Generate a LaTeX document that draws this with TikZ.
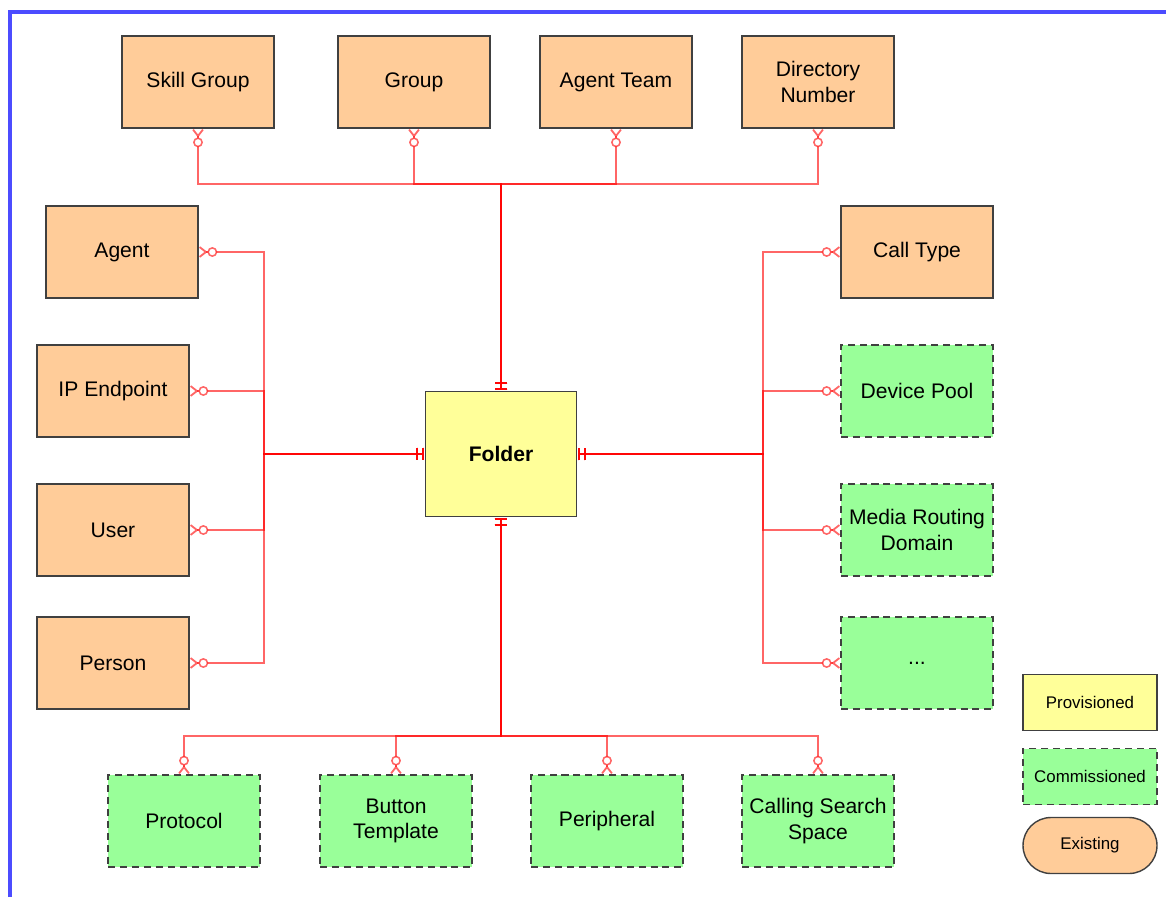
\documentclass[tikz,border=0pt]{standalone}
\usepackage{fontspec}
\setmainfont{Liberation Sans}
\usetikzlibrary{arrows.meta,positioning}

\definecolor{existfill}{HTML}{FFCC99}
\definecolor{provfill}{HTML}{FFFF99}
\definecolor{commfill}{HTML}{99FF99}
\definecolor{boxline}{HTML}{404040}

\begin{document}
\begin{tikzpicture}[on grid,
  entity/.style={draw=boxline,line width=1pt,minimum width=3.8cm,minimum height=2.3cm,
    align=center,font=\fontsize{15}{18}\selectfont},
  existing/.style={entity,fill=existfill},
  commissioned/.style={entity,fill=commfill,dash pattern=on 5pt off 3.5pt},
  provisioned/.style={entity,fill=provfill},
  legendbox/.style={minimum width=3.35cm,minimum height=1.4cm,font=\fontsize{12}{14}\selectfont},
  link/.style={draw=red,draw opacity=.6,line width=1.4pt,
    {Straight Barb[reversed,length=4.5pt,width=7pt,line width=1.3pt] Circle[length=7pt,fill=white,line width=1.1pt]}-{Bar[width=9pt,sep=2.5pt,line width=1.6pt]Bar[width=9pt,sep=0.5pt,line width=1.6pt]}}]
  \useasboundingbox (0,0) rectangle (29.15,-22.425);
  \draw[blue!70,line width=2.5pt] (0.25,-22.425) -- (0.25,-0.3) -- (29.15,-0.3);

  \path
  node[provisioned,minimum width=3.775cm,minimum height=3.125cm,font=\fontsize{15}{18}\selectfont\bfseries] (folder) at (12.525,-11.35) {Folder}
  % top row
  node[existing] (skill) at (4.95,-2.05) {Skill Group}
  node[existing] (group) [right=5.4cm of skill] {Group}
  node[existing] (team) [right=5.05cm of group] {Agent Team}
  node[existing] (dirnum) [right=5.05cm of team] {Directory\\Number}
  % left column
  node[existing] (ipend) at (2.825,-9.775) {IP Endpoint}
  node[existing] (agent) [above right=3.475cm and 0.225cm of ipend] {Agent}
  node[existing] (user) [below=3.475cm of ipend] {User}
  node[existing] (person) [below=3.325cm of user] {Person}
  % right column
  node[existing] (calltype) at (22.925,-6.3) {Call Type}
  node[commissioned] (pool) [below=3.475cm of calltype] {Device Pool}
  node[commissioned] (mrd) [below=3.475cm of pool] {Media Routing\\Domain}
  node[commissioned] (more) [below=3.325cm of mrd] {...}
  % bottom row
  node[commissioned] (protocol) at (4.6,-20.525) {Protocol}
  node[commissioned] (button) [right=5.3cm of protocol] {Button\\Template}
  node[commissioned] (periph) [right=5.275cm of button] {Peripheral}
  node[commissioned] (css) [right=5.275cm of periph] {Calling Search\\Space}
  % legend
  node[provisioned,legendbox] (prov) at (27.25,-17.5625) {Provisioned}
  node[commissioned,legendbox] (comm) [below=1.85cm of prov] {Commissioned}
  node[existing,legendbox,rounded corners=0.7cm] (exist) [below=1.725cm of comm] {Existing}
  ;

  \coordinate (topbus) at (12.525,-4.6);
  \coordinate (leftbus) at (6.6,-11.35);
  \coordinate (rightbus) at (19.075,-11.35);
  \coordinate (botbus) at (12.525,-18.4);

  \draw[link] (skill.south) |- (topbus) -- (folder.north);
  \draw[link] (group.south) |- (topbus) -- (folder.north);
  \draw[link] (team.south) |- (topbus) -- (folder.north);
  \draw[link] (dirnum.south) |- (topbus) -- (folder.north);

  \draw[link] (agent.east) -| (leftbus) -- (folder.west);
  \draw[link] (ipend.east) -| (leftbus) -- (folder.west);
  \draw[link] (user.east) -| (leftbus) -- (folder.west);
  \draw[link] (person.east) -| (leftbus) -- (folder.west);

  \draw[link] (calltype.west) -| (rightbus) -- (folder.east);
  \draw[link] (pool.west) -| (rightbus) -- (folder.east);
  \draw[link] (mrd.west) -| (rightbus) -- (folder.east);
  \draw[link] (more.west) -| (rightbus) -- (folder.east);

  \draw[link] (protocol.north) |- (botbus) -- (folder.south);
  \draw[link] (button.north) |- (botbus) -- (folder.south);
  \draw[link] (periph.north) |- (botbus) -- (folder.south);
  \draw[link] (css.north) |- (botbus) -- (folder.south);
\end{tikzpicture}
\end{document}
